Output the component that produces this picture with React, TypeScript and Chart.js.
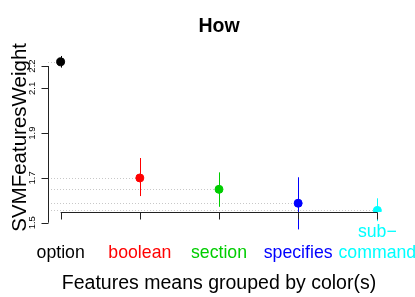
import React, { useEffect, useRef } from "react";
import { Chart, registerables } from "chart.js";

Chart.register(...registerables);

const categoryLines: string[][] = [["option"], ["boolean"], ["section"], ["specifies"], ["sub−", "command"]];
const positions = [1, 2, 3, 4, 5];
const means = [2.219, 1.7, 1.649, 1.587, 1.555];
const lower = [2.193, 1.619, 1.571, 1.47, 1.507];
const upper = [2.245, 1.789, 1.725, 1.703, 1.609];
const colors = ["#000000", "#FF0000", "#00CD00", "#0000FF", "#00FFFF"];
const yTicks = [1.5, 1.7, 1.9, 2.1, 2.2];
const yTickLabels = ["1.5", "1.7", "1.9", "2.1", "2.2"];
const titleText = "How";
const yTitle = "SVMFeaturesWeight";
const xTitle = "Features means grouped by color(s)";

const FONT = "'Liberation Sans', Arial, Helvetica, sans-serif";

const overlay = {
  id: "rOverlay",
  beforeDatasetsDraw(chart: any) {
    const ctx = chart.ctx;
    const xs = chart.scales.x;
    const ys = chart.scales.y;
    const left = chart.chartArea.left;
    ctx.save();
    // dotted reference lines
    ctx.strokeStyle = "#c8c8c8";
    ctx.lineWidth = 1;
    ctx.setLineDash([1, 2]);
    means.forEach((m, i) => {
      const y = Math.round(ys.getPixelForValue(m)) + 0.5;
      ctx.beginPath();
      ctx.moveTo(left, y);
      ctx.lineTo(xs.getPixelForValue(positions[i]), y);
      ctx.stroke();
    });
    ctx.setLineDash([]);
    // error bars
    means.forEach((_, i) => {
      const x = Math.round(xs.getPixelForValue(positions[i])) + 0.5;
      ctx.strokeStyle = colors[i];
      ctx.beginPath();
      ctx.moveTo(x, ys.getPixelForValue(lower[i]));
      ctx.lineTo(x, ys.getPixelForValue(upper[i]));
      ctx.stroke();
    });
    ctx.restore();
  },
  afterDraw(chart: any) {
    const ctx = chart.ctx;
    const xs = chart.scales.x;
    const ys = chart.scales.y;
    const area = chart.chartArea;
    ctx.save();
    ctx.strokeStyle = "#222";
    ctx.lineWidth = 1;
    // y axis
    const ax = Math.round(area.left) + 0.5;
    ctx.beginPath();
    ctx.moveTo(ax, ys.getPixelForValue(yTicks[0]));
    ctx.lineTo(ax, ys.getPixelForValue(yTicks[yTicks.length - 1]));
    yTicks.forEach((t) => {
      const y = Math.round(ys.getPixelForValue(t)) + 0.5;
      ctx.moveTo(ax, y);
      ctx.lineTo(ax - 7, y);
    });
    ctx.stroke();
    // x axis
    const ay = Math.round(area.bottom) + 0.5;
    ctx.beginPath();
    ctx.moveTo(xs.getPixelForValue(positions[0]), ay);
    ctx.lineTo(xs.getPixelForValue(positions[positions.length - 1]), ay);
    positions.forEach((p) => {
      const x = Math.round(xs.getPixelForValue(p)) + 0.5;
      ctx.moveTo(x, ay);
      ctx.lineTo(x, ay + 7);
    });
    ctx.stroke();

    // y tick labels
    ctx.fillStyle = "#000";
    ctx.font = `9.5px ${FONT}`;
    ctx.textAlign = "center";
    ctx.textBaseline = "alphabetic";
    yTicks.forEach((t, i) => {
      ctx.save();
      ctx.translate(35, ys.getPixelForValue(t));
      ctx.rotate(-Math.PI / 2);
      ctx.fillText(yTickLabels[i], 0, 0);
      ctx.restore();
    });

    // category labels
    ctx.font = `17.7px ${FONT}`;
    categoryLines.forEach((lines, i) => {
      ctx.fillStyle = colors[i];
      const x = xs.getPixelForValue(positions[i]);
      lines.forEach((ln, j) => {
        const y = 258 - (lines.length - 1 - j) * 21.5;
        ctx.fillText(ln, x, y);
      });
    });

    const cx = (area.left + area.right) / 2;
    ctx.fillStyle = "#000";
    // title
    ctx.font = `bold 19.5px ${FONT}`;
    ctx.fillText(titleText, cx, 31.7);
    // x title
    ctx.font = `19.5px ${FONT}`;
    ctx.fillText(xTitle, cx, 289.3);
    // y title
    ctx.save();
    ctx.translate(26, 137.4);
    ctx.rotate(-Math.PI / 2);
    ctx.font = `20.5px ${FONT}`;
    ctx.fillText(yTitle, 0, 0);
    ctx.restore();
    ctx.restore();
  },
};

export default function App() {
  const ref = useRef<HTMLCanvasElement | null>(null);
  useEffect(() => {
    document.body.style.margin = "0";
    if (!ref.current) return;
    const chart = new Chart(ref.current, {
      type: "scatter",
      data: {
        datasets: [
          {
            data: positions.map((p, i) => ({ x: p, y: means[i] })),
            pointBackgroundColor: colors,
            pointBorderColor: colors,
            pointRadius: 4,
            pointBorderWidth: 1,
            pointHoverRadius: 4,
          },
        ],
      },
      options: {
        animation: false,
        responsive: false,
        devicePixelRatio: 1,
        events: [],
        layout: { padding: { left: 48, right: 25, top: 50, bottom: 85 } },
        plugins: { legend: { display: false }, tooltip: { enabled: false }, title: { display: false } },
        scales: {
          x: { type: "linear", min: 0.84, max: 5.16, display: false },
          y: { type: "linear", min: 1.5478, max: 2.2717, display: false },
        },
      },
      plugins: [overlay],
    });
    return () => chart.destroy();
  }, []);
  return (
    <div style={{ position: "fixed", left: 0, top: 0, width: 415, height: 297, background: "#fff" }}>
      <canvas ref={ref} width={415} height={297} style={{ width: 415, height: 297 }} />
    </div>
  );
}
